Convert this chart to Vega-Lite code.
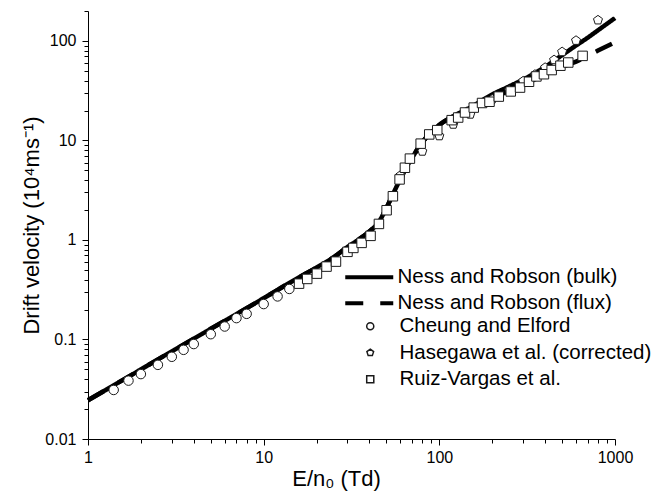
{
  "$schema": "https://vega.github.io/schema/vega-lite/v6.json",
  "width": 527,
  "height": 428,
  "autosize": {"type": "none"},
  "padding": {"left": 88, "top": 11, "right": 47, "bottom": 60},
  "background": "white",
  "config": {
    "view": {"stroke": null},
    "font": "Liberation Sans",
    "axis": {
      "grid": false,
      "domainColor": "black",
      "domainWidth": 1,
      "tickColor": "black",
      "tickWidth": 1,
      "labelColor": "black",
      "labelFont": "Liberation Sans",
      "labelFontSize": 16,
      "titleFont": "Liberation Sans",
      "titleFontSize": 22,
      "titleFontWeight": "normal",
      "titleColor": "black",
      "labelOverlap": false,
      "labelFlush": false
    },
    "legend": {
      "labelFont": "Liberation Sans",
      "labelFontSize": 20.5,
      "labelColor": "black",
      "labelLimit": 0,
      "padding": 0
    }
  },
  "datasets": {
    "lines": [
      {"E": 1, "v": 0.0245, "series": "Ness and Robson (bulk)"},
      {"E": 2, "v": 0.05, "series": "Ness and Robson (bulk)"},
      {"E": 3, "v": 0.076, "series": "Ness and Robson (bulk)"},
      {"E": 5, "v": 0.128, "series": "Ness and Robson (bulk)"},
      {"E": 7, "v": 0.18, "series": "Ness and Robson (bulk)"},
      {"E": 10, "v": 0.26, "series": "Ness and Robson (bulk)"},
      {"E": 14, "v": 0.37, "series": "Ness and Robson (bulk)"},
      {"E": 20, "v": 0.53, "series": "Ness and Robson (bulk)"},
      {"E": 25, "v": 0.67, "series": "Ness and Robson (bulk)"},
      {"E": 30, "v": 0.85, "series": "Ness and Robson (bulk)"},
      {"E": 35, "v": 1.02, "series": "Ness and Robson (bulk)"},
      {"E": 40, "v": 1.22, "series": "Ness and Robson (bulk)"},
      {"E": 45, "v": 1.5, "series": "Ness and Robson (bulk)"},
      {"E": 50, "v": 2.1, "series": "Ness and Robson (bulk)"},
      {"E": 55, "v": 3.0, "series": "Ness and Robson (bulk)"},
      {"E": 60, "v": 4.1, "series": "Ness and Robson (bulk)"},
      {"E": 65, "v": 5.4, "series": "Ness and Robson (bulk)"},
      {"E": 70, "v": 6.7, "series": "Ness and Robson (bulk)"},
      {"E": 80, "v": 9.6, "series": "Ness and Robson (bulk)"},
      {"E": 90, "v": 12.0, "series": "Ness and Robson (bulk)"},
      {"E": 100, "v": 14.3, "series": "Ness and Robson (bulk)"},
      {"E": 120, "v": 17.5, "series": "Ness and Robson (bulk)"},
      {"E": 150, "v": 21.5, "series": "Ness and Robson (bulk)"},
      {"E": 200, "v": 29, "series": "Ness and Robson (bulk)"},
      {"E": 250, "v": 35, "series": "Ness and Robson (bulk)"},
      {"E": 300, "v": 41, "series": "Ness and Robson (bulk)"},
      {"E": 400, "v": 55, "series": "Ness and Robson (bulk)"},
      {"E": 500, "v": 72, "series": "Ness and Robson (bulk)"},
      {"E": 600, "v": 90, "series": "Ness and Robson (bulk)"},
      {"E": 700, "v": 108, "series": "Ness and Robson (bulk)"},
      {"E": 800, "v": 128, "series": "Ness and Robson (bulk)"},
      {"E": 1000, "v": 170, "series": "Ness and Robson (bulk)"},
      {"E": 1, "v": 0.0245, "series": "Ness and Robson (flux)"},
      {"E": 2, "v": 0.05, "series": "Ness and Robson (flux)"},
      {"E": 3, "v": 0.076, "series": "Ness and Robson (flux)"},
      {"E": 5, "v": 0.128, "series": "Ness and Robson (flux)"},
      {"E": 7, "v": 0.18, "series": "Ness and Robson (flux)"},
      {"E": 10, "v": 0.26, "series": "Ness and Robson (flux)"},
      {"E": 14, "v": 0.37, "series": "Ness and Robson (flux)"},
      {"E": 20, "v": 0.53, "series": "Ness and Robson (flux)"},
      {"E": 25, "v": 0.67, "series": "Ness and Robson (flux)"},
      {"E": 30, "v": 0.85, "series": "Ness and Robson (flux)"},
      {"E": 35, "v": 1.02, "series": "Ness and Robson (flux)"},
      {"E": 40, "v": 1.22, "series": "Ness and Robson (flux)"},
      {"E": 45, "v": 1.5, "series": "Ness and Robson (flux)"},
      {"E": 50, "v": 2.1, "series": "Ness and Robson (flux)"},
      {"E": 55, "v": 3.0, "series": "Ness and Robson (flux)"},
      {"E": 60, "v": 4.1, "series": "Ness and Robson (flux)"},
      {"E": 65, "v": 5.4, "series": "Ness and Robson (flux)"},
      {"E": 70, "v": 6.7, "series": "Ness and Robson (flux)"},
      {"E": 80, "v": 9.6, "series": "Ness and Robson (flux)"},
      {"E": 90, "v": 12.0, "series": "Ness and Robson (flux)"},
      {"E": 100, "v": 14.3, "series": "Ness and Robson (flux)"},
      {"E": 120, "v": 17.5, "series": "Ness and Robson (flux)"},
      {"E": 150, "v": 21.0, "series": "Ness and Robson (flux)"},
      {"E": 200, "v": 26.5, "series": "Ness and Robson (flux)"},
      {"E": 250, "v": 31.5, "series": "Ness and Robson (flux)"},
      {"E": 300, "v": 36, "series": "Ness and Robson (flux)"},
      {"E": 400, "v": 46, "series": "Ness and Robson (flux)"},
      {"E": 500, "v": 55, "series": "Ness and Robson (flux)"},
      {"E": 600, "v": 62, "series": "Ness and Robson (flux)"},
      {"E": 700, "v": 71, "series": "Ness and Robson (flux)"},
      {"E": 800, "v": 80, "series": "Ness and Robson (flux)"},
      {"E": 1000, "v": 97, "series": "Ness and Robson (flux)"}
    ],
    "points": [
      {"E": 1.4, "v": 0.0311, "series": "Cheung and Elford"},
      {"E": 1.7, "v": 0.0386, "series": "Cheung and Elford"},
      {"E": 2, "v": 0.0449, "series": "Cheung and Elford"},
      {"E": 2.5, "v": 0.0556, "series": "Cheung and Elford"},
      {"E": 3, "v": 0.067, "series": "Cheung and Elford"},
      {"E": 3.5, "v": 0.0787, "series": "Cheung and Elford"},
      {"E": 4, "v": 0.09, "series": "Cheung and Elford"},
      {"E": 5, "v": 0.113, "series": "Cheung and Elford"},
      {"E": 6, "v": 0.135, "series": "Cheung and Elford"},
      {"E": 7, "v": 0.164, "series": "Cheung and Elford"},
      {"E": 8, "v": 0.181, "series": "Cheung and Elford"},
      {"E": 10, "v": 0.227, "series": "Cheung and Elford"},
      {"E": 12, "v": 0.271, "series": "Cheung and Elford"},
      {"E": 14, "v": 0.322, "series": "Cheung and Elford"},
      {"E": 60, "v": 4.45, "series": "Hasegawa et al. (corrected)"},
      {"E": 80, "v": 7.77, "series": "Hasegawa et al. (corrected)"},
      {"E": 100, "v": 11.1, "series": "Hasegawa et al. (corrected)"},
      {"E": 120, "v": 14.5, "series": "Hasegawa et al. (corrected)"},
      {"E": 150, "v": 18.3, "series": "Hasegawa et al. (corrected)"},
      {"E": 200, "v": 25.9, "series": "Hasegawa et al. (corrected)"},
      {"E": 250, "v": 32, "series": "Hasegawa et al. (corrected)"},
      {"E": 300, "v": 39.5, "series": "Hasegawa et al. (corrected)"},
      {"E": 350, "v": 46, "series": "Hasegawa et al. (corrected)"},
      {"E": 400, "v": 54, "series": "Hasegawa et al. (corrected)"},
      {"E": 450, "v": 64.5, "series": "Hasegawa et al. (corrected)"},
      {"E": 500, "v": 77.7, "series": "Hasegawa et al. (corrected)"},
      {"E": 600, "v": 101, "series": "Hasegawa et al. (corrected)"},
      {"E": 800, "v": 162, "series": "Hasegawa et al. (corrected)"},
      {"E": 15.9, "v": 0.364, "series": "Ruiz-Vargas et al."},
      {"E": 17.7, "v": 0.406, "series": "Ruiz-Vargas et al."},
      {"E": 20.1, "v": 0.459, "series": "Ruiz-Vargas et al."},
      {"E": 22.8, "v": 0.54, "series": "Ruiz-Vargas et al."},
      {"E": 25.8, "v": 0.606, "series": "Ruiz-Vargas et al."},
      {"E": 30.0, "v": 0.76, "series": "Ruiz-Vargas et al."},
      {"E": 32.4, "v": 0.832, "series": "Ruiz-Vargas et al."},
      {"E": 36.1, "v": 0.935, "series": "Ruiz-Vargas et al."},
      {"E": 40.6, "v": 1.1, "series": "Ruiz-Vargas et al."},
      {"E": 45.3, "v": 1.45, "series": "Ruiz-Vargas et al."},
      {"E": 50.1, "v": 1.99, "series": "Ruiz-Vargas et al."},
      {"E": 54.4, "v": 2.75, "series": "Ruiz-Vargas et al."},
      {"E": 59.4, "v": 4.06, "series": "Ruiz-Vargas et al."},
      {"E": 63.7, "v": 5.32, "series": "Ruiz-Vargas et al."},
      {"E": 68.0, "v": 6.57, "series": "Ruiz-Vargas et al."},
      {"E": 78.3, "v": 9.29, "series": "Ruiz-Vargas et al."},
      {"E": 87.6, "v": 11.5, "series": "Ruiz-Vargas et al."},
      {"E": 97.3, "v": 12.7, "series": "Ruiz-Vargas et al."},
      {"E": 117.5, "v": 16.0, "series": "Ruiz-Vargas et al."},
      {"E": 128, "v": 17.0, "series": "Ruiz-Vargas et al."},
      {"E": 140, "v": 19.1, "series": "Ruiz-Vargas et al."},
      {"E": 157, "v": 21.4, "series": "Ruiz-Vargas et al."},
      {"E": 175, "v": 23.8, "series": "Ruiz-Vargas et al."},
      {"E": 193, "v": 24.5, "series": "Ruiz-Vargas et al."},
      {"E": 218, "v": 27.6, "series": "Ruiz-Vargas et al."},
      {"E": 255, "v": 31.1, "series": "Ruiz-Vargas et al."},
      {"E": 288, "v": 34.0, "series": "Ruiz-Vargas et al."},
      {"E": 324, "v": 38.9, "series": "Ruiz-Vargas et al."},
      {"E": 357, "v": 44.0, "series": "Ruiz-Vargas et al."},
      {"E": 394, "v": 46.3, "series": "Ruiz-Vargas et al."},
      {"E": 436, "v": 51.0, "series": "Ruiz-Vargas et al."},
      {"E": 489, "v": 56.4, "series": "Ruiz-Vargas et al."},
      {"E": 542, "v": 60.7, "series": "Ruiz-Vargas et al."},
      {"E": 654, "v": 70.8, "series": "Ruiz-Vargas et al."}
    ]
  },
  "encoding": {
    "x": {
      "field": "E",
      "type": "quantitative",
      "scale": {"type": "log", "domain": [1, 1000], "nice": false},
      "axis": {
        "title": "E/n₀ (Td)",
        "values": [1,2,3,4,5,6,7,8,9,10,20,30,40,50,60,70,80,90,100,200,300,400,500,600,700,800,900,1000],
        "format": "~g",
        "labelExpr": "abs(log(datum.value)/LN10 - round(log(datum.value)/LN10)) < 1e-6 ? datum.label : ''",
        "tickSize": {"condition": {"test": "abs(log(datum.value)/LN10 - round(log(datum.value)/LN10)) < 1e-6", "value": 6}, "value": 4},
        "labelPadding": 4,
        "titleX": 248,
        "titleY": 46,
        "titleAlign": "center",
        "titleBaseline": "alphabetic"
      }
    },
    "y": {
      "field": "v",
      "type": "quantitative",
      "scale": {"type": "log", "domain": [0.01, 200], "nice": false},
      "axis": {
        "title": "Drift velocity (10⁴ms⁻¹)",
        "values": [0.01,0.02,0.03,0.04,0.05,0.06,0.07,0.08,0.09,0.1,0.2,0.3,0.4,0.5,0.6,0.7,0.8,0.9,1,2,3,4,5,6,7,8,9,10,20,30,40,50,60,70,80,90,100,200],
        "format": "~g",
        "labelExpr": "abs(log(datum.value)/LN10 - round(log(datum.value)/LN10)) < 1e-6 ? datum.label : ''",
        "tickSize": {"condition": {"test": "abs(log(datum.value)/LN10 - round(log(datum.value)/LN10)) < 1e-6", "value": 6}, "value": 4},
        "labelPadding": 6,
        "titleX": -50,
        "titleY": 214,
        "titleAngle": -90,
        "titleAlign": "center",
        "titleBaseline": "alphabetic"
      }
    }
  },
  "layer": [
    {
      "data": {"name": "lines"},
      "transform": [{"filter": "datum.series === 'Ness and Robson (flux)'"}],
      "mark": {"type": "line", "color": "black", "strokeWidth": 4.5, "interpolate": "monotone"},
      "encoding": {
        "strokeDash": {
          "field": "series",
          "type": "nominal",
          "scale": {"domain": ["Ness and Robson (bulk)", "Ness and Robson (flux)"], "range": [[1, 0], [18, 17]]},
          "legend": {
            "title": null,
            "orient": "none",
            "legendX": 271,
            "legendY": 256,
            "symbolType": "M-4,0H4",
            "symbolSize": 144,
            "symbolStrokeWidth": 4,
            "symbolStrokeColor": "black",
            "labelOffset": 18,
            "rowPadding": 5
          }
        }
      }
    },
    {
      "data": {"name": "lines"},
      "transform": [{"filter": "datum.series === 'Ness and Robson (bulk)'"}],
      "mark": {"type": "line", "color": "black", "strokeWidth": 4.5, "interpolate": "monotone"},
      "encoding": {
        "strokeDash": {
          "field": "series",
          "type": "nominal",
          "scale": {"domain": ["Ness and Robson (bulk)", "Ness and Robson (flux)"], "range": [[1, 0], [18, 17]]}
        }
      }
    },
    {
      "data": {"name": "points"},
      "mark": {"type": "point", "filled": true, "fill": "white", "stroke": "#1a1a1a", "strokeWidth": 1, "size": 90, "opacity": 1},
      "encoding": {
        "shape": {
          "field": "series",
          "type": "nominal",
          "scale": {
            "domain": ["Cheung and Elford", "Hasegawa et al. (corrected)", "Ruiz-Vargas et al."],
            "range": ["circle", "M0,-1L0.951,-0.309L0.588,0.809L-0.588,0.809L-0.951,-0.309Z", "square"]
          },
          "legend": {
            "title": null,
            "orient": "none",
            "legendX": 272,
            "legendY": 305,
            "symbolSize": 50,
            "labelOffset": 19,
            "rowPadding": 5.5,
            "encode": {
              "symbols": {
                "update": {
                  "fill": {"value": "white"},
                  "stroke": {"value": "black"},
                  "strokeWidth": {"value": 1},
                  "opacity": {"value": 1}
                }
              }
            }
          }
        }
      }
    }
  ]
}
